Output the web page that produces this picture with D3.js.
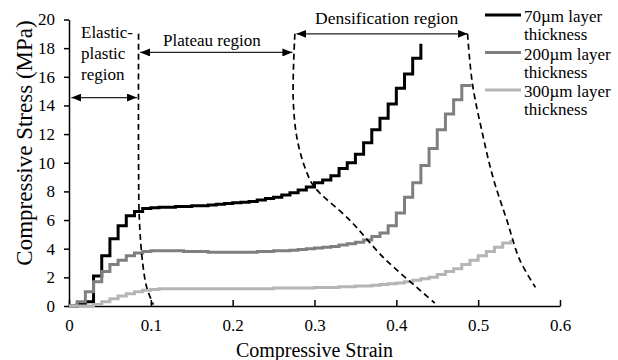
<!DOCTYPE html>
<html>
<head>
<meta charset="utf-8">
<script src="https://cdn.jsdelivr.net/npm/d3@7"></script>
</head>
<body style="margin:0; background:#fff">
<div id="chart"></div>
<script>
// strain grid of the test machine (0.01 steps)
var strain = [0, 0.01, 0.02, 0.03, 0.04, 0.05, 0.06, 0.07, 0.08, 0.09,
  0.10, 0.11, 0.12, 0.13, 0.14, 0.15, 0.16, 0.17, 0.18, 0.19,
  0.20, 0.21, 0.22, 0.23, 0.24, 0.25, 0.26, 0.27, 0.28, 0.29,
  0.30, 0.31, 0.32, 0.33, 0.34, 0.35, 0.36, 0.37, 0.38, 0.39,
  0.40, 0.41, 0.42, 0.43, 0.44, 0.45, 0.46, 0.47, 0.48, 0.49,
  0.50, 0.51, 0.52, 0.53, 0.54];

var stress70 = [0, 0.1, 0.3, 2.1, 3.5, 4.7, 5.6, 6.3, 6.6, 6.8,
  6.85, 6.9, 6.9, 6.95, 6.95, 7.0, 7.0, 7.05, 7.1, 7.15,
  7.2, 7.25, 7.3, 7.4, 7.5, 7.6, 7.75, 7.9, 8.1, 8.3,
  8.6, 8.8, 9.1, 9.6, 10.0, 10.6, 11.4, 12.3, 13.1, 14.1,
  15.2, 16.2, 17.3, 18.3];

var stress200 = [0, 0.3, 1.0, 1.7, 2.4, 2.9, 3.2, 3.5, 3.7, 3.8,
  3.85, 3.85, 3.85, 3.85, 3.8, 3.8, 3.8, 3.75, 3.75, 3.75,
  3.75, 3.75, 3.75, 3.8, 3.8, 3.85, 3.85, 3.9, 3.95, 4.0,
  4.05, 4.1, 4.15, 4.25, 4.35, 4.45, 4.6, 4.85, 5.1, 5.6,
  6.5, 7.6, 8.6, 9.8, 11.0, 12.3, 13.4, 14.4, 15.4, 15.5];

var stress300 = [0, 0, 0, 0.1, 0.3, 0.5, 0.7, 0.85, 1.0, 1.1,
  1.15, 1.2, 1.2, 1.2, 1.2, 1.2, 1.2, 1.2, 1.2, 1.2,
  1.2, 1.2, 1.2, 1.2, 1.2, 1.25, 1.25, 1.25, 1.25, 1.25,
  1.3, 1.3, 1.3, 1.35, 1.35, 1.4, 1.4, 1.45, 1.5, 1.55,
  1.6, 1.7, 1.8, 1.9, 2.0, 2.2, 2.4, 2.6, 2.9, 3.2,
  3.5, 3.8, 4.1, 4.4, 4.6];

var seriesNames = ["70\u00b5m layer", "200\u00b5m layer", "300\u00b5m layer"];
var seriesColors = ["#000000", "#7f7f7f", "#b5b5b5"];

var xTicks = [0, 0.1, 0.2, 0.3, 0.4, 0.5, 0.6];
var yTicks = [0, 2, 4, 6, 8, 10, 12, 14, 16, 18, 20];

// dashed region boundaries, [strain, stress]
var bound1 = [[0.085, 19.0], [0.085, 10.0], [0.086, 6.0], [0.090, 3.0], [0.095, 1.3], [0.103, 0.1]];
var bound2 = [[0.276, 19.0], [0.274, 14.4], [0.279, 11.6], [0.290, 9.4], [0.300, 8.3],
  [0.343, 6.0], [0.384, 3.4], [0.425, 1.3], [0.447, 0.2]];
var bound3 = [[0.487, 19.0], [0.493, 15.5], [0.505, 12.1], [0.518, 9.0], [0.535, 6.0],
  [0.551, 3.2], [0.570, 1.3]];

// region arrows: [from strain, to strain, stress]
var regionArrows = [[0.003, 0.083, 14.55], [0.087, 0.273, 17.7], [0.278, 0.487, 19.0]];

var width = 618, height = 360;
var serif = "'Liberation Serif'";

var x = d3.scaleLinear().domain([0, 0.6]).range([69, 560]);
var y = d3.scaleLinear().domain([0, 20]).range([306, 19.5]);

var svg = d3.select("#chart").append("svg")
  .attr("width", width)
  .attr("height", height);

svg.append("defs").append("marker")
  .attr("id", "head")
  .attr("viewBox", "0 0 10 8")
  .attr("refX", 10).attr("refY", 4)
  .attr("markerWidth", 10).attr("markerHeight", 8)
  .attr("markerUnits", "userSpaceOnUse")
  .attr("orient", "auto-start-reverse")
  .append("path").attr("d", "M0,0L10,4L0,8Z").attr("fill", "#000");

// axes
var xAxis = svg.append("g").attr("transform", "translate(0," + y(0) + ")")
  .call(d3.axisBottom(x).tickValues(xTicks).tickSize(-6).tickSizeOuter(0)
    .tickFormat(function (d) { return d === 0 ? "0" : d3.format(".1f")(d); }));
xAxis.select(".domain").attr("stroke", "#000").attr("stroke-width", 1.5);
xAxis.selectAll(".tick line").attr("stroke", "#000").attr("stroke-width", 1.5);
xAxis.selectAll(".tick text").attr("y", 13).attr("font-size", 17);

var yAxis = svg.append("g").attr("transform", "translate(" + x(0) + ",0)")
  .call(d3.axisLeft(y).tickValues(yTicks).tickSize(5).tickSizeOuter(0));
yAxis.select(".domain").attr("stroke", "#000").attr("stroke-width", 1.5);
yAxis.selectAll(".tick line").attr("stroke", "#000").attr("stroke-width", 1.5);
yAxis.selectAll(".tick text").attr("x", -14).attr("font-size", 17);

// curves
var line = d3.line()
  .x(function (d, i) { return x(strain[i]); })
  .y(function (d) { return y(d); })
  .curve(d3.curveStepAfter);

[stress70, stress200, stress300].forEach(function (s, i) {
  svg.append("path")
    .attr("d", line(s))
    .attr("fill", "none")
    .attr("stroke", seriesColors[i])
    .attr("stroke-width", 3);
});

// dashed boundaries
var bline = d3.line()
  .x(function (d) { return x(d[0]); })
  .y(function (d) { return y(d[1]); })
  .curve(d3.curveCatmullRom);

[bound1, bound2, bound3].forEach(function (b) {
  svg.append("path")
    .attr("d", bline(b))
    .attr("fill", "none")
    .attr("stroke", "#000")
    .attr("stroke-width", 1.7)
    .attr("stroke-dasharray", "6,4");
});

// arrows
regionArrows.forEach(function (a) {
  svg.append("line")
    .attr("x1", x(a[0])).attr("x2", x(a[1]))
    .attr("y1", y(a[2])).attr("y2", y(a[2]))
    .attr("stroke", "#222").attr("stroke-width", 1.2)
    .attr("marker-end", "url(#head)")
    .attr("marker-start", "url(#head)");
});

// region labels
var lab = svg.append("g").attr("font-size", 17);
lab.append("text").attr("x", 81).attr("y", 38).text("Elastic-");
lab.append("text").attr("x", 81).attr("y", 59).text("plastic");
lab.append("text").attr("x", 81).attr("y", 80).text("region");
lab.append("text").attr("x", 163).attr("y", 46).text("Plateau region");
lab.append("text").attr("x", 315).attr("y", 24).attr("font-size", 17.5).text("Densification region");

// legend
var leg = svg.append("g").attr("font-size", 17);
seriesNames.forEach(function (n, i) {
  var ly = 15 + i * 37.5;
  leg.append("line").attr("x1", 485).attr("x2", 521).attr("y1", ly).attr("y2", ly)
    .attr("stroke", seriesColors[i]).attr("stroke-width", 3);
  leg.append("text").attr("x", 524).attr("y", ly + 7).text(n);
  leg.append("text").attr("x", 524).attr("y", ly + 25).text("thickness");
});

// axis titles
svg.append("text").attr("x", (x(0) + x(0.6)) / 2).attr("y", 357)
  .attr("text-anchor", "middle").attr("font-size", 20).text("Compressive Strain");
svg.append("text")
  .attr("transform", "translate(32,143) rotate(-90)")
  .attr("text-anchor", "middle").attr("font-size", 23).text("Compressive Stress (MPa)");

svg.selectAll("text").style("font-family", serif).attr("fill", "#000");
</script>
</body>
</html>
